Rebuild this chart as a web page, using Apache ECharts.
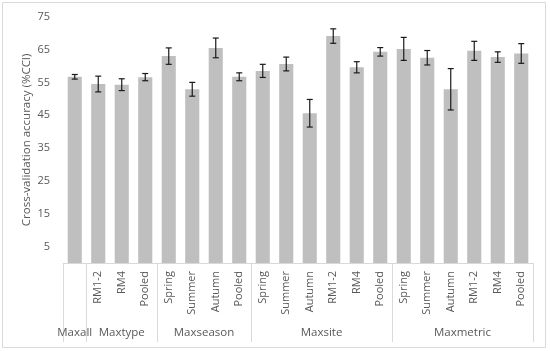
<!DOCTYPE html>
<html><head><meta charset="utf-8">
<script src="https://cdn.jsdelivr.net/npm/echarts@6/dist/echarts.min.js"></script>
<style>html,body{margin:0;padding:0;background:#fff}#c{width:550px;height:351px}</style>
</head><body><div id="c"></div>
<script>
const subLabels = ['', 'RM1-2', 'RM4', 'Pooled', 'Spring', 'Summer', 'Autumn', 'Pooled', 'Spring', 'Summer', 'Autumn', 'RM1-2', 'RM4', 'Pooled', 'Spring', 'Summer', 'Autumn', 'RM1-2', 'RM4', 'Pooled'];
const groupNames = ['Maxall', 'Maxtype', 'Maxseason', 'Maxsite', 'Maxmetric'];
const groupSizes = [1, 3, 4, 6, 6];
const accuracy = [56.7, 54.5, 54.3, 56.6, 63.0, 52.9, 65.5, 56.7, 58.5, 60.6, 45.6, 69.1, 59.6, 64.3, 65.2, 62.5, 52.9, 64.6, 62.7, 63.8];
const errors = [0.7, 2.4, 1.8, 1.1, 2.5, 2.1, 3.0, 1.2, 2.0, 2.1, 4.2, 2.2, 1.7, 1.3, 3.5, 2.2, 6.3, 2.9, 1.6, 3.0];
const yTicks = [5, 15, 25, 35, 45, 55, 65, 75];

const FONT = 'Open Sans';
const TXT = '#595959';
const LINE = '#d9d9d9';

const bounds = [0];
groupSizes.forEach(s => bounds.push(bounds[bounds.length - 1] + s));
const centers = groupNames.map((g, i) => (bounds[i] + bounds[i + 1]) / 2);
const errData = accuracy.map((v, i) => [i, v - errors[i], v + errors[i]]);

const chart = echarts.init(document.getElementById('c'), null, {renderer: 'canvas'});
chart.setOption({
  animation: false,
  backgroundColor: '#fff',
  graphic: [{
    type: 'rect', shape: {x: 2.5, y: 2.5, width: 543, height: 345},
    style: {fill: 'none', stroke: LINE, lineWidth: 1}, silent: true, z: -1
  }],
  grid: {left: 63, right: 17, top: 16.7, bottom: 88, containLabel: false},
  xAxis: [{
    type: 'category', data: subLabels, boundaryGap: true,
    axisLine: {show: true, lineStyle: {color: LINE, width: 1}},
    axisTick: {show: false},
    axisLabel: {interval: 0, rotate: 90, margin: 8, color: TXT, fontFamily: FONT, fontSize: 11}
  }, {
    type: 'value', min: 0, max: bounds[bounds.length - 1], position: 'bottom',
    axisLine: {show: false},
    splitLine: {show: false},
    axisTick: {show: true, customValues: bounds, length: 79, lineStyle: {color: LINE, width: 1}},
    axisLabel: {
      show: true, customValues: centers, margin: 64, color: TXT, fontFamily: FONT, fontSize: 11.5,
      formatter: v => {
        const k = centers.findIndex(c => Math.abs(c - v) < 1e-6);
        return k >= 0 ? groupNames[k] : '';
      }
    }
  }],
  yAxis: {
    type: 'value', min: 0, max: 75, interval: 5,
    axisLine: {show: false}, axisTick: {show: false}, splitLine: {show: false},
    axisLabel: {
      margin: 13, color: TXT, fontFamily: FONT, fontSize: 11,
      formatter: v => yTicks.includes(v) ? String(v) : ''
    },
    name: 'Cross-validation accuracy (%CCI)', nameLocation: 'middle', nameGap: 30,
    nameMoveOverlap: false,
    nameTextStyle: {color: TXT, fontFamily: FONT, fontSize: 11.5}
  },
  series: [{
    type: 'bar', xAxisIndex: 0, data: accuracy, barWidth: '60%',
    itemStyle: {color: '#bfbfbf'}
  }, {
    type: 'custom', xAxisIndex: 0, data: errData, z: 5,
    renderItem: (params, api) => {
      const x = api.value(0);
      const top = api.coord([x, api.value(2)]);
      const bot = api.coord([x, api.value(1)]);
      const w = 3;
      const st = {stroke: '#1a1a1a', lineWidth: 1.2};
      return {
        type: 'group', children: [
          {type: 'line', shape: {x1: top[0], y1: top[1], x2: bot[0], y2: bot[1]}, style: st},
          {type: 'line', shape: {x1: top[0] - w, y1: top[1], x2: top[0] + w, y2: top[1]}, style: st},
          {type: 'line', shape: {x1: bot[0] - w, y1: bot[1], x2: bot[0] + w, y2: bot[1]}, style: st}
        ]
      };
    }
  }]
});
</script>
</body></html>
